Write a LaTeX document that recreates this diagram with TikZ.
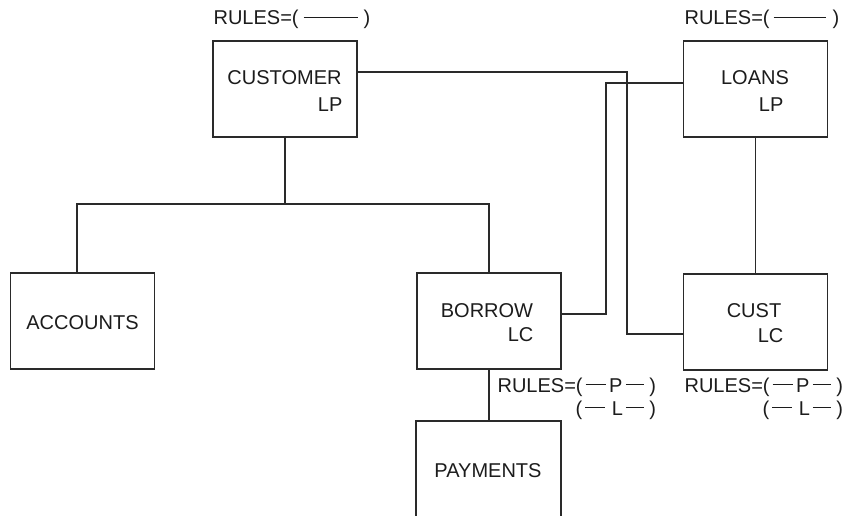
\documentclass[tikz,border=0pt]{standalone}
\usepackage{fontspec}
\setmainfont{Liberation Sans}
\definecolor{ink}{HTML}{2A2A2A}
\definecolor{txt}{HTML}{1C1C1C}
\newcommand\dbar[1]{\rule[7pt]{#1}{1.1pt}}
\begin{document}
\begin{tikzpicture}[x=1pt,y=-1pt,line width=1.2pt,color=ink,
  lbl/.style={inner sep=0pt,text=txt,font=\fontsize{20}{26}\selectfont},
  box/.style={draw=ink,line width=1.2pt,minimum width=144pt,minimum height=96pt,inner sep=0pt}]
\useasboundingbox (0,0) rectangle (849,516);
% boxes
\node[box] (customer) at (285,89) {};
\node[box] (loans) at (755.5,89) {};
\node[box] (accounts) at (82.5,321) {};
\node[box] (borrow) at (489,321) {};
\node[box] (cust) at (755.5,322) {};
\draw (416,516) -- (416,421) -- (561,421) -- (561,516);
\coordinate (paytop) at (489,421);
\coordinate (j) at (285,204);
% box texts
\node[lbl,anchor=base] (customer-1) at (284.5,85) {CUSTOMER};
\node[lbl,anchor=base east] (customer-2) at (343,112) {LP};
\node[lbl,anchor=base] (loans-1) at (755,85) {LOANS};
\node[lbl,anchor=base east] (loans-2) at (784,112) {LP};
\node[lbl,anchor=base] (accounts-1) at (82.5,329) {ACCOUNTS};
\node[lbl,anchor=base] (borrow-1) at (487,317) {BORROW};
\node[lbl,anchor=base east] (borrow-2) at (534,341) {LC};
\node[lbl,anchor=base] (cust-1) at (754,317) {CUST};
\node[lbl,anchor=base east] (cust-2) at (784,342) {LC};
\node[lbl,anchor=base] (payments) at (488,477) {PAYMENTS};
% connectors
\draw (customer.south) -- (j);
\draw ([xshift=-5.5pt]accounts.north) |- (j) -| (borrow.north);
\draw ([yshift=17pt]customer.east) -| (627,334) -- ([yshift=-12pt]cust.west);
\draw ([yshift=6pt]loans.west) -| (606,314) -- ([yshift=7pt]borrow.east);
\draw (loans.south) -- (cust.north);
\draw (borrow.south) -- (paytop);
% rules labels
\node[lbl,anchor=base west] (r1) at (213,25) {RULES=(\hspace{5pt}\dbar{54pt}\hspace{6pt})};
\node[lbl,anchor=base west] (r2) at (684,25) {RULES=(\hspace{4pt}\dbar{52pt}\hspace{7pt})};
\node[lbl,anchor=base west] (r3a) at (497,392) {RULES=(\hspace{3pt}\dbar{20pt}\hspace{3.5pt}P\hspace{3.5pt}\dbar{18pt}\hspace{5.5pt})};
\node[lbl,anchor=base east] (r3b) at (r3a.base east) [yshift=-23pt] {(\hspace{3pt}\dbar{20pt}\hspace{6.5pt}L\hspace{3pt}\dbar{18pt}\hspace{5.5pt})};
\node[lbl,anchor=base west] (r4a) at (684,392) {RULES=(\hspace{3pt}\dbar{20pt}\hspace{3.5pt}P\hspace{3.5pt}\dbar{18pt}\hspace{5.5pt})};
\node[lbl,anchor=base east] (r4b) at (r4a.base east) [yshift=-23pt] {(\hspace{3pt}\dbar{20pt}\hspace{6.5pt}L\hspace{3pt}\dbar{18pt}\hspace{5.5pt})};
\end{tikzpicture}
\end{document}
